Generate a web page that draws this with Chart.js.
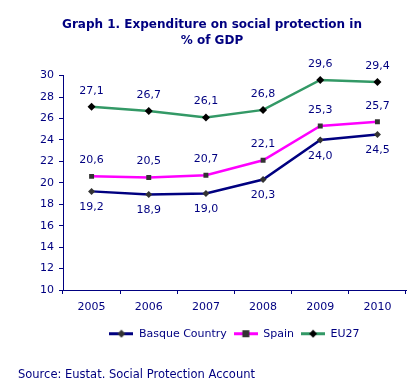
<!DOCTYPE html>
<html>
<head>
<meta charset="utf-8">
<script src="https://cdn.jsdelivr.net/npm/chart.js@4/dist/chart.umd.min.js"></script>
<style>
  html, body { margin: 0; padding: 0; background: #fff; }
  #wrap { width: 420px; height: 390px; }
</style>
</head>
<body>
<div id="wrap"><canvas id="chart" width="420" height="390"></canvas></div>
<script>
const years = ['2005', '2006', '2007', '2008', '2009', '2010'];
const basque = [19.2, 18.9, 19.0, 20.3, 24.0, 24.5];
const spain = [20.6, 20.5, 20.7, 22.1, 25.3, 25.7];
const eu27 = [27.1, 26.7, 26.1, 26.8, 29.6, 29.4];

const NAVY = '#000080';
const FONT = 'DejaVu Sans, Verdana, sans-serif';

// little line+marker picture for the legend
function legendIcon(color, shape, markColor) {
    const c = document.createElement('canvas');
    c.width = 24; c.height = 9;
    const g = c.getContext('2d');
    g.strokeStyle = color;
    g.lineWidth = 3;
    g.beginPath(); g.moveTo(0, 4.5); g.lineTo(24, 4.5); g.stroke();
    g.fillStyle = markColor;
    if (shape === 'rect') {
        g.fillRect(8.5, 1, 7, 7);
    } else {
        g.beginPath();
        g.moveTo(12, 0.5); g.lineTo(16, 4.5); g.lineTo(12, 8.5); g.lineTo(8, 4.5);
        g.closePath(); g.fill();
    }
    return c;
}

// value labels, comma decimals
const valueLabels = {
    id: 'valueLabels',
    afterDatasetsDraw(chart) {
        const ctx = chart.ctx;
        ctx.save();
        ctx.font = '11px ' + FONT;
        ctx.fillStyle = NAVY;
        ctx.textAlign = 'center';
        ctx.textBaseline = 'middle';
        chart.data.datasets.forEach((ds, i) => {
            const meta = chart.getDatasetMeta(i);
            meta.data.forEach((pt, j) => {
                const dy = ds.labelBelow ? 16 : -16;
                ctx.fillText(ds.data[j].toFixed(1).replace('.', ','), pt.x, pt.y + dy);
            });
        });
        ctx.restore();
    }
};

const icons = [
    legendIcon(NAVY, 'diamond', '#333333'),
    legendIcon('#FF00FF', 'rect', '#333333'),
    legendIcon('#339966', 'diamond', '#000000')
];

new Chart(document.getElementById('chart'), {
    type: 'line',
    data: {
        labels: years,
        datasets: [
            {
                label: 'Basque Country', data: basque, labelBelow: true,
                borderColor: NAVY, borderWidth: 2.5,
                pointStyle: 'rectRot', pointRadius: 3.5,
                pointBackgroundColor: '#333333', pointBorderWidth: 0
            },
            {
                label: 'Spain', data: spain,
                borderColor: '#FF00FF', borderWidth: 2.5,
                pointStyle: 'rect', pointRadius: 3.5,
                pointBackgroundColor: '#333333', pointBorderWidth: 0
            },
            {
                label: 'EU27', data: eu27,
                borderColor: '#339966', borderWidth: 2.5,
                pointStyle: 'rectRot', pointRadius: 4,
                pointBackgroundColor: '#000000', pointBorderWidth: 0
            }
        ]
    },
    options: {
        responsive: false,
        animation: false,
        layout: { padding: { left: 18, right: 14, top: 6, bottom: 4 } },
        elements: { line: { tension: 0 } },
        plugins: {
            title: {
                display: true,
                text: ['Graph 1. Expenditure on social protection in', '% of GDP'],
                color: NAVY,
                font: { family: FONT, size: 12, weight: 'bold', lineHeight: 1.4 },
                padding: { top: 10, bottom: 26 }
            },
            legend: {
                position: 'bottom',
                fullSize: false,
                labels: {
                    color: NAVY,
                    font: { family: FONT, size: 11 },
                    usePointStyle: true,
                    pointStyleWidth: 24,
                    boxHeight: 9,
                    padding: 7,
                    generateLabels(chart) {
                        const items = Chart.defaults.plugins.legend.labels.generateLabels(chart);
                        items.forEach((it, k) => { it.pointStyle = icons[k]; });
                        return items;
                    }
                }
            },
            subtitle: {
                display: true,
                position: 'bottom',
                align: 'start',
                text: 'Source: Eustat. Social Protection Account',
                color: NAVY,
                font: { family: FONT, size: 11.5 },
                padding: { top: 19, bottom: 4 }
            },
            tooltip: { enabled: false }
        },
        scales: {
            x: {
                offset: true,
                border: { color: NAVY, width: 1 },
                grid: { offset: true, drawOnChartArea: false, color: NAVY, tickLength: 4 },
                ticks: { color: NAVY, font: { family: FONT, size: 11 }, padding: 7 }
            },
            y: {
                min: 10, max: 30,
                border: { color: NAVY, width: 1 },
                grid: { drawOnChartArea: false, color: NAVY, tickLength: 4 },
                ticks: { stepSize: 2, color: NAVY, font: { family: FONT, size: 11 }, padding: 5 },
                afterFit(scale) { scale.width = 45; }
            }
        }
    },
    plugins: [valueLabels]
});
</script>
</body>
</html>
